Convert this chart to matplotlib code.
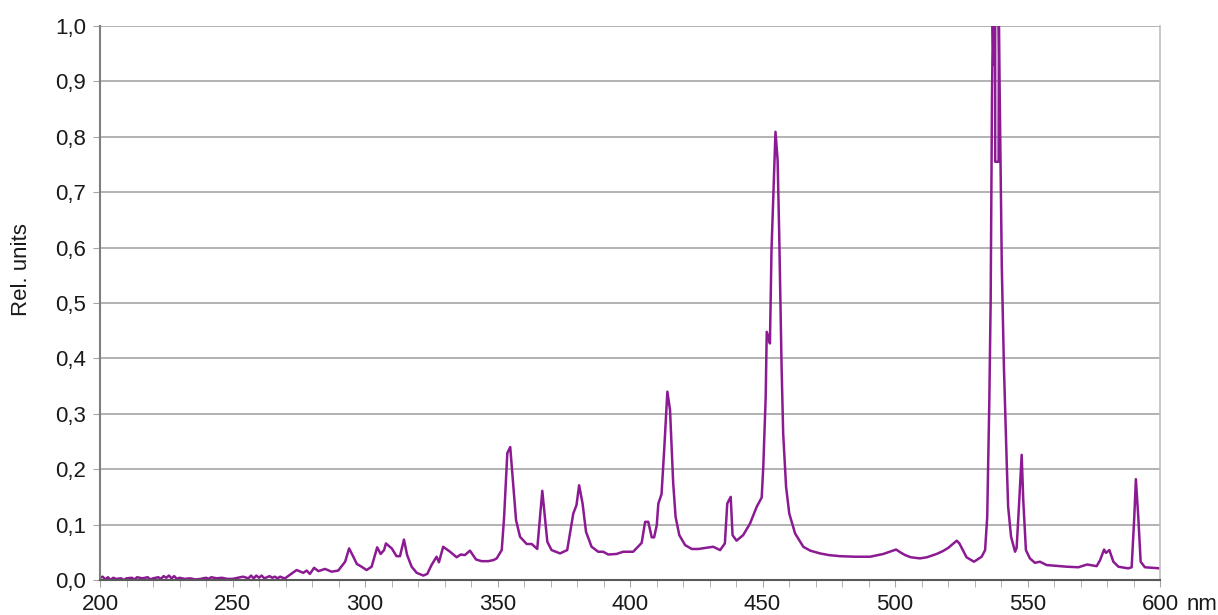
import matplotlib
matplotlib.use("Agg")
import matplotlib.pyplot as plt
from matplotlib.ticker import MultipleLocator, FuncFormatter

plt.rcParams['font.family'] = ['Liberation Sans', 'DejaVu Sans']

# wavelength (nm) and relative intensity
wl = [200, 201, 202, 203, 204, 205, 206, 208, 209, 210, 212, 213, 214, 216, 218, 219,
      220, 222, 223, 224, 225, 226, 227, 228, 229, 230, 232, 234, 236, 238, 240, 241,
      242, 244, 246, 248, 250, 252, 254, 256, 257, 258, 259, 260, 261, 262, 264, 265,
      266, 267, 268, 269, 269.8, 274.2, 276.7, 278, 279.2, 280.8, 282.4, 284.9, 287.4,
      289.9, 292.5, 294, 295.6, 296.9, 298.7, 300.6, 302.5, 304.6, 305.9, 307.2, 307.9,
      310.1, 311.9, 313.2, 314.7, 315.9, 317.6, 319.5, 322, 323.5, 325.1, 327, 327.9,
      329.5, 332.1, 334.6, 336.1, 337.7, 339.6, 341.9, 344, 346.5, 348.5, 349.7, 351.6,
      352.5, 353.7, 354.8, 355.9, 357, 358.5, 361, 362.9, 365, 366.9, 368.8, 370.4,
      373.6, 376.3, 378.6, 379.8, 380.8, 382.1, 383.4, 385.5, 388, 389.9, 391.8, 394.9,
      397.4, 401.2, 404.4, 405.7, 406.9, 408.2, 409.1, 410.1, 410.7, 411.9, 412.9,
      414.1, 415.1, 416.3, 417.2, 418.6, 420.8, 423.3, 425.8, 428.5, 431.4, 434, 435.8,
      436.7, 438, 438.7, 440.2, 442.7, 445.3, 447.8, 449.7, 450.3, 451.2, 451.6, 452.5,
      452.8, 453.4, 454.9, 455.7, 456.3, 457.2, 457.8, 458.9, 460.1, 462.3, 465.4, 468,
      471.7, 475, 479.2, 485, 490.6, 495.6, 498, 500.4, 502, 503.8, 506, 509.4, 512,
      515.7, 518, 520.1, 523.3, 524.3, 527, 529.8, 532.7, 534, 534.8, 535.6, 536.1,
      536.6, 536.9, 537.2, 537.4, 537.8, 537.8, 539.1, 539.2, 540.3, 541.1, 542.2,
      542.7, 543.8, 545.3, 545.9, 546.9, 547.8, 548.4, 549.4, 550.9, 552.8, 554.7,
      557.2, 564.8, 569.2, 572.5, 576.1, 577.4, 578.9, 579.6, 580.9, 582.4, 584.3, 588,
      589.3, 590.3, 590.9, 591.8, 592.7, 594.3, 600]
rel = [0.004, 0.006, 0.001, 0.005, 0.0, 0.004, 0.002, 0.003, 0.0, 0.003, 0.004, 0.001,
       0.005, 0.003, 0.005, 0.001, 0.003, 0.005, 0.002, 0.007, 0.004, 0.008, 0.003,
       0.007, 0.002, 0.004, 0.002, 0.003, 0.001, 0.002, 0.004, 0.002, 0.005, 0.003,
       0.004, 0.002, 0.002, 0.004, 0.006, 0.003, 0.008, 0.003, 0.008, 0.004, 0.008,
       0.003, 0.007, 0.004, 0.006, 0.003, 0.006, 0.004, 0.003, 0.018, 0.013, 0.017,
       0.011, 0.022, 0.016, 0.020, 0.015, 0.017, 0.033, 0.057, 0.042, 0.029, 0.024,
       0.018, 0.024, 0.059, 0.047, 0.054, 0.066, 0.057, 0.043, 0.043, 0.073, 0.045,
       0.024, 0.013, 0.008, 0.011, 0.027, 0.042, 0.032, 0.060, 0.051, 0.041, 0.046,
       0.045, 0.053, 0.037, 0.034, 0.034, 0.036, 0.039, 0.054, 0.114, 0.229, 0.240,
       0.175, 0.108, 0.078, 0.065, 0.065, 0.056, 0.161, 0.069, 0.054, 0.048, 0.054,
       0.120, 0.135, 0.171, 0.138, 0.087, 0.060, 0.051, 0.051, 0.046, 0.047, 0.051,
       0.051, 0.067, 0.105, 0.105, 0.077, 0.077, 0.099, 0.138, 0.155, 0.235, 0.340,
       0.307, 0.175, 0.114, 0.081, 0.063, 0.056, 0.056, 0.058, 0.060, 0.054, 0.066,
       0.138, 0.150, 0.081, 0.071, 0.081, 0.102, 0.132, 0.149, 0.205, 0.330, 0.448,
       0.433, 0.427, 0.596, 0.809, 0.758, 0.626, 0.385, 0.265, 0.168, 0.120, 0.084,
       0.060, 0.053, 0.048, 0.045, 0.043, 0.042, 0.042, 0.047, 0.051, 0.055, 0.050,
       0.045, 0.041, 0.039, 0.041, 0.047, 0.052, 0.058, 0.071, 0.066, 0.041, 0.033,
       0.042, 0.054, 0.114, 0.325, 0.505, 0.870, 1.0, 0.93, 1.0, 1.0, 0.755, 0.755,
       1.0, 0.566, 0.385, 0.205, 0.132, 0.078, 0.051, 0.058, 0.144, 0.226, 0.144, 0.054,
       0.039, 0.031, 0.033, 0.027, 0.024, 0.023, 0.028, 0.025, 0.036, 0.055, 0.049,
       0.054, 0.033, 0.024, 0.021, 0.023, 0.114, 0.182, 0.114, 0.033, 0.023, 0.021]

fig = plt.figure(figsize=(12.18, 6.15), dpi=100)
ax = fig.add_axes([100 / 1218, 1 - 580 / 615, 1060 / 1218, 554 / 615])

ax.plot(wl, rel, color='#8b1a93', lw=1.8)

ax.set_xlim(200, 600)
ax.set_ylim(0, 1.0)
ax.xaxis.set_major_locator(MultipleLocator(50))
ax.xaxis.set_minor_locator(MultipleLocator(10))
ax.yaxis.set_major_locator(MultipleLocator(0.1))
ax.yaxis.set_major_formatter(FuncFormatter(lambda v, p: f"{v:.1f}".replace('.', ',')))
ax.xaxis.set_major_formatter(FuncFormatter(lambda v, p: f"{v:.0f}"))

ax.grid(axis='y', color='#a6a6a6', lw=1.2)
ax.set_axisbelow(True)
ax.spines['top'].set_visible(False)
ax.spines['left'].set_color('#7f7f7f')
ax.spines['left'].set_linewidth(1.5)
ax.spines['bottom'].set_color('#595959')
ax.spines['bottom'].set_linewidth(1.5)
ax.spines['right'].set_color('#bfbfbf')
ax.spines['right'].set_linewidth(1.2)

ax.tick_params(axis='y', which='major', length=5, color='#a6a6a6', labelsize=16,
               pad=5, labelcolor='#1a1a1a')
ax.tick_params(axis='x', which='both', length=5, color='#a6a6a6', labelsize=16,
               pad=5, labelcolor='#1a1a1a')

fig.text(1187 / 1218, 1 - 604 / 615, "nm", fontsize=16, color='#1a1a1a',
         ha='left', va='center')
fig.text(22 / 1218, 1 - 270 / 615, "Rel. units", fontsize=16, color='#1a1a1a',
         rotation=90, ha='center', va='center')

fig.savefig("out.png", dpi=100)
